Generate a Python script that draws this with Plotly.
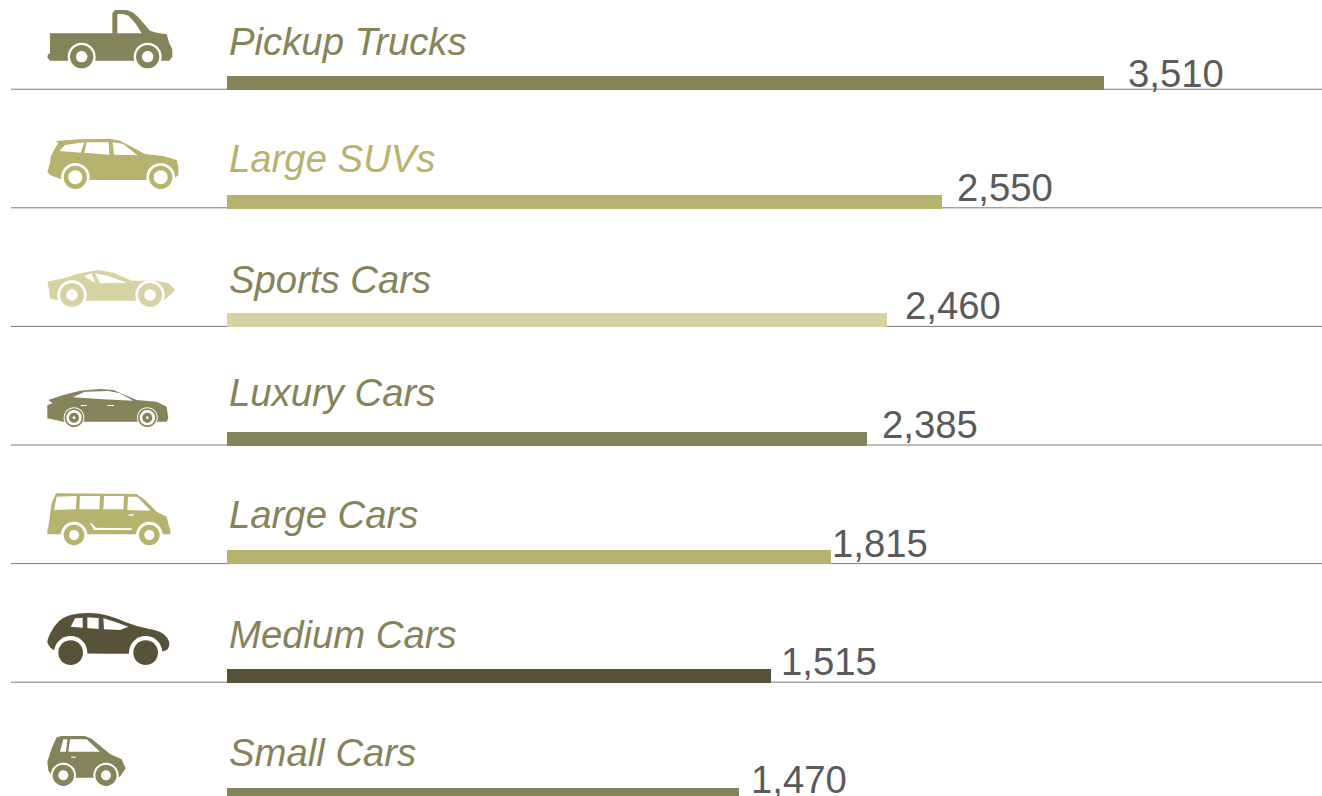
import plotly.graph_objects as go

# ---- data ----
categories = ["Pickup Trucks", "Large SUVs", "Sports Cars", "Luxury Cars", "Large Cars", "Medium Cars", "Small Cars"]
value_labels = ["3,510", "2,550", "2,460", "2,385", "1,815", "1,515", "1,470"]
# drawn bar lengths (the source graphic is not to scale with its printed numbers)
bar_lengths = [877, 715, 660, 640, 604, 544, 512]

# ---- styling ----
OLIVE, KHAKI, PALE, DARK = "#85835a", "#b8b26f", "#d6d2a4", "#575238"
bar_colors = [OLIVE, KHAKI, PALE, OLIVE, KHAKI, DARK, OLIVE]
label_colors = [OLIVE, KHAKI, OLIVE, OLIVE, OLIVE, OLIVE, OLIVE]
value_gaps = [22, 13, 16, 13, -1, 8, 10]
value_lifts = [10, 14.6, 15, 14.8, 14.4, 15, 15]
label_lifts = [42, 43.6, 41, 46.8, 43, 42, 42.6]
W, H = 1322, 796
ROW = 118.6
FIRST_ROW_PX = 83
BAR_PX = 14
AXIS_X0_PX = 227
FONT = "Liberation Sans"
LABEL_SIZE = 38.3
VALUE_SIZE = 38.3

rows = list(range(len(categories)))

fig = go.Figure(go.Bar(
    y=rows, x=bar_lengths, orientation="h", width=BAR_PX / ROW,
    marker=dict(color=bar_colors, line=dict(width=0)),
    hoverinfo="skip",
))

shapes = []
# rule under every row
for r in rows:
    shapes.append(dict(type="line", xref="x2", yref="y", x0=11, x1=W, y0=r + 6.2 / ROW, y1=r + 6.2 / ROW,
                       line=dict(color="#7a7a7a", width=1), layer="below"))


# ---- vehicle pictograms (decoration), traced on a 3x grid of page pixels ----
def poly(pts, ox, oy, smooth=False):
    p = [(ox + x / 3, oy + y / 3) for x, y in pts]
    if not smooth:
        return "M" + " L".join(f"{x:.2f},{y:.2f}" for x, y in p) + " Z"
    n = len(p)
    mid = lambda a, b: ((a[0] + b[0]) / 2, (a[1] + b[1]) / 2)
    s = mid(p[-1], p[0])
    d = f"M{s[0]:.2f},{s[1]:.2f}"
    for i in range(n):
        m = mid(p[i], p[(i + 1) % n])
        d += f" Q{p[i][0]:.2f},{p[i][1]:.2f} {m[0]:.2f},{m[1]:.2f}"
    return d + " Z"


def disc(cx, cy, r, ox, oy):
    x, y, r = ox + cx / 3, oy + cy / 3, r / 3
    k = 0.5523 * r
    return (f"M{x - r:.2f},{y:.2f} "
            f"C{x - r:.2f},{y - k:.2f} {x - k:.2f},{y - r:.2f} {x:.2f},{y - r:.2f} "
            f"C{x + k:.2f},{y - r:.2f} {x + r:.2f},{y - k:.2f} {x + r:.2f},{y:.2f} "
            f"C{x + r:.2f},{y + k:.2f} {x + k:.2f},{y + r:.2f} {x:.2f},{y + r:.2f} "
            f"C{x - k:.2f},{y + r:.2f} {x - r:.2f},{y + k:.2f} {x - r:.2f},{y:.2f} Z")


def fill(path, color):
    shapes.append(dict(type="path", xref="x2", yref="y2", path=path, fillcolor=color, line=dict(width=0), layer="above"))


def icon(color, ox, oy, body, holes, wheels, smooth=False):
    path = poly(body, ox, oy, smooth) + " " + " ".join(poly(h, ox, oy) for h in holes)
    fill(path, color)
    for cx, cy, well, r, hole in wheels:
        fill(disc(cx, cy, well, ox, oy), "#ffffff")
        fill(disc(cx, cy, r, ox, oy), color)
        if hole:
            fill(disc(cx, cy, hole, ox, oy), "#ffffff")


icon(OLIVE, 30, 0,
     [(60, 100), (247, 100), (247, 40), (255, 30), (290, 30), (310, 38), (325, 52), (360, 92), (380, 98), (410, 103),
      (418, 130), (427, 148), (427, 170), (418, 182), (60, 182), (52, 172), (54, 163), (60, 160)],
     [[(262, 42), (262, 100), (335, 100), (315, 68), (295, 47), (280, 42)]],
     [(155, 170, 42, 35, 17), (353, 170, 42, 35, 17)])
icon(KHAKI, 30, 0,
     [(78, 423), (150, 418), (240, 416), (270, 422), (345, 462), (400, 468), (440, 480), (445, 500), (445, 525), (430, 538),
      (350, 540), (100, 540), (60, 525), (52, 515), (60, 490), (62, 470), (75, 445), (85, 430)],
     [[(88, 453), (105, 435), (163, 427), (152, 458)], [(170, 427), (236, 427), (238, 464), (163, 458)],
      [(248, 427), (280, 432), (322, 466), (252, 464)]],
     [(136, 532, 43, 35, 21), (392, 532, 43, 35, 21)])
icon(PALE, 30, 250,
     [(52, 95), (100, 85), (150, 70), (205, 60), (250, 68), (305, 92), (380, 92), (415, 100), (436, 120), (420, 135),
      (402, 152), (90, 152), (60, 145), (58, 125)],
     [[(162, 78), (185, 70), (195, 95), (190, 97)], [(195, 70), (235, 78), (290, 98), (210, 100)]],
     [(126, 135, 44, 36, 17), (360, 135, 44, 36, 17)])
icon(OLIVE, 30, 250,
     [(55, 450), (100, 435), (150, 422), (210, 417), (250, 420), (320, 450), (380, 455), (410, 470), (415, 505), (410, 515),
      (100, 515), (52, 505), (52, 465), (68, 460)],
     [[(128, 442), (165, 425), (235, 423), (270, 430), (310, 452), (220, 448)],
      [(152, 465), (170, 465), (170, 468), (152, 468)], [(232, 465), (252, 465), (252, 468), (232, 468)]],
     [(132, 503, 31, 28, 23), (352, 503, 31, 28, 23)])
for cx in (132, 352):
    fill(disc(cx, 503, 15, 30, 250), OLIVE)
    fill(disc(cx, 503, 4, 30, 250), "#ffffff")
icon(KHAKI, 30, 480,
     [(78, 40), (320, 42), (345, 60), (380, 95), (410, 110), (416, 135), (420, 148), (422, 163), (52, 163), (52, 150),
      (55, 140), (65, 70)],
     [[(80, 50), (140, 48), (137, 88), (72, 90)], [(150, 48), (210, 48), (208, 88), (148, 88)],
      [(222, 48), (282, 48), (280, 88), (220, 88)], [(294, 50), (322, 50), (362, 92), (292, 90)],
      [(180, 130), (192, 150), (305, 150), (305, 145), (198, 143), (185, 130)],
      [(295, 103), (312, 103), (310, 107), (297, 107)]],
     [(132, 165, 40, 31, 15), (358, 165, 40, 31, 15)])
icon(DARK, 30, 480,
     [(52, 480), (70, 440), (100, 410), (150, 398), (210, 400), (260, 415), (320, 440), (390, 452), (415, 475), (420, 495),
      (405, 520), (172, 522), (70, 515), (52, 490)],
     [[(122, 440), (135, 415), (158, 413), (158, 443)], [(172, 412), (206, 414), (206, 447), (172, 444)],
      [(220, 415), (255, 425), (295, 440), (270, 450), (222, 448)]],
     [(122, 518, 50, 37, 0), (347, 518, 50, 37, 0)], smooth=True)
icon(OLIVE, 30, 700,
     [(52, 185), (65, 145), (80, 112), (95, 108), (165, 108), (185, 116), (240, 162), (275, 178), (287, 205), (270, 230),
      (200, 233), (130, 233), (70, 230), (55, 212)],
     [[(90, 155), (100, 118), (112, 118), (108, 155)], [(115, 155), (120, 118), (170, 118), (210, 155)],
      [(123, 170), (137, 170), (137, 173), (123, 173)]],
     [(100, 226, 38, 32, 15), (228, 226, 38, 32, 15)], smooth=False)

annotations = []
for r in rows:
    annotations.append(dict(x=0, y=r, xref="x", yref="y", text=categories[r], showarrow=False, xanchor="left",
                            yanchor="middle", xshift=0, yshift=label_lifts[r],
                            font=dict(family=FONT, size=LABEL_SIZE, color=label_colors[r], style="italic")))
    annotations.append(dict(x=bar_lengths[r], y=r, xref="x", yref="y", text=value_labels[r], showarrow=False,
                            xanchor="left", yanchor="middle", xshift=value_gaps[r], yshift=value_lifts[r],
                            font=dict(family=FONT, size=VALUE_SIZE, color="#5a5a5a")))

fig.update_layout(
    width=W, height=H, margin=dict(l=0, r=0, t=0, b=0), autosize=False,
    paper_bgcolor="#ffffff", plot_bgcolor="#ffffff", showlegend=False, bargap=0,
    xaxis=dict(range=[-AXIS_X0_PX, W - AXIS_X0_PX], visible=False, fixedrange=True),
    yaxis=dict(range=[(H - FIRST_ROW_PX) / ROW, -FIRST_ROW_PX / ROW], visible=False, fixedrange=True),
    xaxis2=dict(range=[0, W], visible=False, overlaying="x", fixedrange=True),
    yaxis2=dict(range=[H, 0], visible=False, overlaying="y", fixedrange=True),
    shapes=shapes, annotations=annotations,
)
# invisible trace so the page-pixel helper axes exist
fig.add_trace(go.Scatter(x=[0], y=[0], xaxis="x2", yaxis="y2", mode="markers", marker=dict(opacity=0), hoverinfo="skip"))

fig.write_html("out.html", config=dict(displayModeBar=False),
               post_script="document.body.style.margin='0';document.body.style.overflow='hidden';")
